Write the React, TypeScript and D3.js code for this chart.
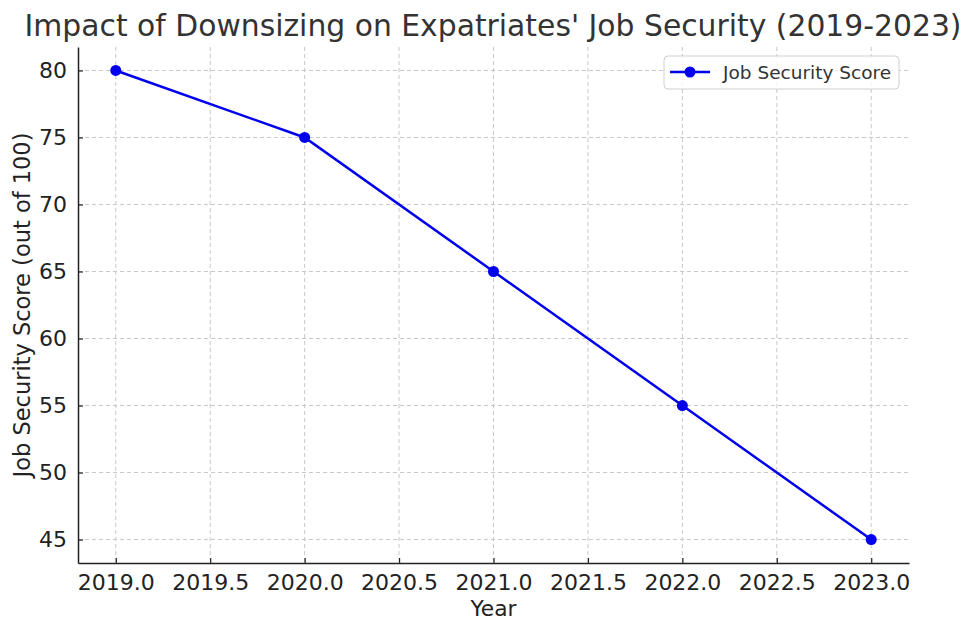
import React, { useEffect, useRef } from 'react';
import * as d3 from 'd3';

const years = [2019, 2020, 2021, 2022, 2023];
const scores = [80, 75, 65, 55, 45];
const xTicks = [2019.0, 2019.5, 2020.0, 2020.5, 2021.0, 2021.5, 2022.0, 2022.5, 2023.0];
const yTicks = [45, 50, 55, 60, 65, 70, 75, 80];

const W = 975;
const H = 635;
const m = { left: 78, right: 66, top: 47, bottom: 72 };
const font = 'DejaVu Sans, sans-serif';
const blue = '#0000ee';

const App = () => {
  const ref = useRef<SVGSVGElement | null>(null);

  useEffect(() => {
    if (!ref.current) return;
    const svg = d3.select(ref.current);
    svg.selectAll('*').remove();

    const x = d3.scaleLinear().domain([2018.8, 2023.2]).range([m.left, W - m.right]);
    const y = d3.scaleLinear().domain([43.25, 81.75]).range([H - m.bottom, m.top]);

    // grid
    const grid = svg.append('g').attr('stroke', '#c8c8c8').attr('stroke-dasharray', '4,3').attr('stroke-width', 1);
    grid.selectAll('.gx').data(xTicks).enter().append('line')
      .attr('x1', d => x(d)).attr('x2', d => x(d))
      .attr('y1', m.top).attr('y2', H - m.bottom);
    grid.selectAll('.gy').data(yTicks).enter().append('line')
      .attr('x1', m.left).attr('x2', W - m.right)
      .attr('y1', d => y(d)).attr('y2', d => y(d));

    // axes
    const xAxis = d3.axisBottom(x).tickValues(xTicks).tickFormat(d3.format('.1f')).tickSizeInner(-5).tickSizeOuter(0).tickPadding(11);
    const yAxis = d3.axisLeft(y).tickValues(yTicks).tickSizeInner(-5).tickSizeOuter(0).tickPadding(11);

    const gx = svg.append('g').attr('transform', `translate(0,${H - m.bottom})`).call(xAxis);
    const gy = svg.append('g').attr('transform', `translate(${m.left},0)`).call(yAxis);
    [gx, gy].forEach(g => {
      g.select('.domain').attr('stroke', '#222').attr('stroke-width', 1.5);
      g.selectAll('.tick line').attr('stroke', '#222').attr('stroke-width', 1.2);
      g.selectAll('.tick text').attr('font-family', font).attr('font-size', 22).attr('fill', '#222');
    });

    // line
    const line = d3.line<number>().x((_, i) => x(years[i])).y(d => y(d));
    svg.append('path').datum(scores).attr('d', line)
      .attr('fill', 'none').attr('stroke', blue).attr('stroke-width', 2.5);
    svg.selectAll('.pt').data(scores).enter().append('circle')
      .attr('cx', (_, i) => x(years[i])).attr('cy', d => y(d)).attr('r', 5.5).attr('fill', blue);

    // title & labels
    svg.append('text').attr('x', 493).attr('y', 36).attr('text-anchor', 'middle')
      .attr('font-family', font).attr('font-size', 29.8).attr('fill', '#333')
      .text("Impact of Downsizing on Expatriates' Job Security (2019-2023)");
    svg.append('text').attr('x', (m.left + W - m.right) / 2).attr('y', 616).attr('text-anchor', 'middle')
      .attr('font-family', font).attr('font-size', 21.8).attr('fill', '#222').text('Year');
    svg.append('text').attr('transform', `translate(30,${(m.top + H - m.bottom) / 2}) rotate(-90)`)
      .attr('text-anchor', 'middle').attr('font-family', font).attr('font-size', 22.5).attr('fill', '#222')
      .text('Job Security Score (out of 100)');

    // legend
    const lg = svg.append('g').attr('transform', 'translate(664,56)');
    lg.append('rect').attr('width', 235).attr('height', 33).attr('rx', 4)
      .attr('fill', 'white').attr('fill-opacity', 0.8).attr('stroke', '#d0d0d0');
    lg.append('line').attr('x1', 6).attr('x2', 46).attr('y1', 16).attr('y2', 16)
      .attr('stroke', blue).attr('stroke-width', 2.5);
    lg.append('circle').attr('cx', 26).attr('cy', 16).attr('r', 5.5).attr('fill', blue);
    lg.append('text').attr('x', 59).attr('y', 23).attr('font-family', font).attr('font-size', 18.5)
      .attr('fill', '#333').text('Job Security Score');
  }, []);

  return <svg ref={ref} width={W} height={H} style={{ display: 'block', margin: -8 }} />;
};

export default App;
